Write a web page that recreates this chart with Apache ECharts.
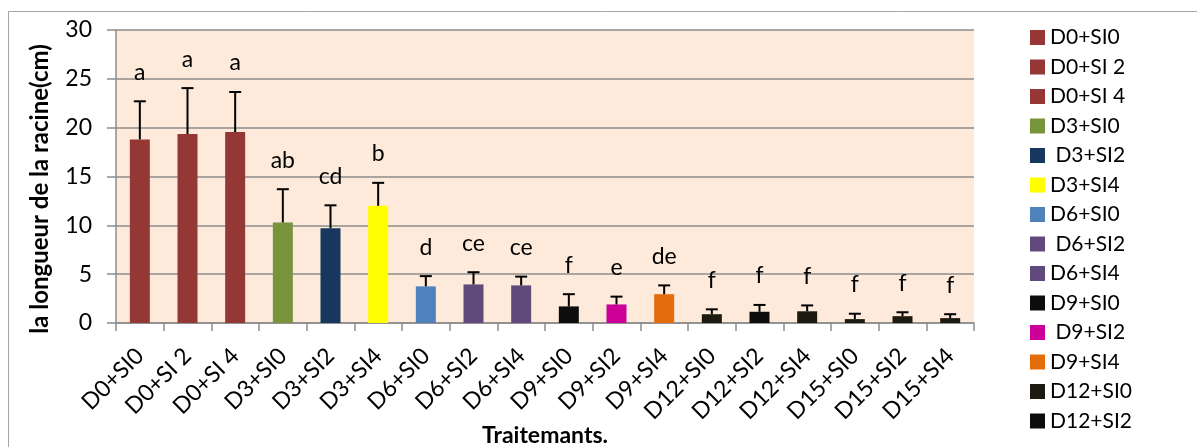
<!DOCTYPE html>
<html>
<head>
<meta charset="utf-8">
<script src="https://cdn.jsdelivr.net/npm/echarts@6/dist/echarts.min.js"></script>
<style>
html,body{margin:0;padding:0;background:#fff;}
#chart{width:1197px;height:447px;}
</style>
</head>
<body>
<div id="chart"></div>
<script>
const categories = ["D0+SI0","D0+SI 2","D0+SI 4","D3+SI0","D3+SI2","D3+SI4","D6+SI0","D6+SI2","D6+SI4","D9+SI0","D9+SI2","D9+SI4","D12+SI0","D12+SI2","D12+SI4","D15+SI0","D15+SI2","D15+SI4"];
const legendLabels = ["D0+SI0","D0+SI 2","D0+SI 4","D3+SI0"," D3+SI2","D3+SI4","D6+SI0"," D6+SI2","D6+SI4","D9+SI0"," D9+SI2","D9+SI4","D12+SI0","D12+SI2","D12+SI4","D15+SI0","D15+SI2","D15+SI4"];
const means = [18.8,19.35,19.55,10.3,9.7,12.0,3.75,3.95,3.85,1.7,1.9,2.95,0.9,1.15,1.2,0.4,0.7,0.5];
const errors = [3.9,4.7,4.1,3.4,2.35,2.35,1.05,1.25,0.9,1.25,0.8,0.9,0.5,0.7,0.6,0.55,0.4,0.4];
const letters = ["a","a","a","ab","cd","b","d","ce","ce","f","e","de","f","f","f","f","f","f"];
const yTicks = [0,5,10,15,20,25,30];
const colors = ["#953735","#953735","#953735","#77933C","#17375E","#FFFF00","#4F81BD","#604A7B","#604A7B","#0D0D0D","#CC0099","#E46C0A","#1D1B10","#0D0D0D","#1D1B10","#1D1B10","#1D1B10","#1D1B10"];

const FONT = 'Lato, "Liberation Sans", sans-serif';
const chart = echarts.init(document.getElementById('chart'));

const barSeries = categories.map((c, i) => ({
  name: legendLabels[i],
  type: 'bar',
  stack: 'all',
  barWidth: 20,
  itemStyle: { color: colors[i] },
  data: categories.map((_, j) => (j === i ? means[i] : '-')),
  z: 2
}));

const errData = categories.map((c, i) => [i, means[i], errors[i]]);

const errSeries = {
  type: 'custom',
  name: 'err',
  z: 5,
  data: errData,
  encode: { x: 0, y: 1 },
  renderItem: function (params, api) {
    const i = api.value(0);
    const m = api.value(1);
    const e = api.value(2);
    const base = api.coord([i, m]);
    const top = api.coord([i, m + e]);
    const half = 6;
    return {
      type: 'group',
      children: [
        { type: 'line', shape: { x1: base[0], y1: base[1], x2: top[0], y2: top[1] }, style: { stroke: '#000', lineWidth: 2 } },
        { type: 'line', shape: { x1: top[0] - half, y1: top[1], x2: top[0] + half, y2: top[1] }, style: { stroke: '#000', lineWidth: 2 } },
        { type: 'text', style: { text: letters[i], x: top[0], y: top[1] - 29, align: 'center', verticalAlign: 'middle', fill: '#000', font: '23px ' + FONT } }
      ]
    };
  }
};

chart.setOption({
  animation: false,
  textStyle: { fontFamily: FONT },
  graphic: [{ type: 'rect', shape: { x: 8.5, y: 11.5, width: 1400, height: 600 }, style: { fill: 'none', stroke: '#a6a6a6', lineWidth: 1 }, silent: true }],
  grid: { left: 116, top: 30, width: 858, height: 293, show: true, backgroundColor: '#FDEADA', borderWidth: 0, containLabel: false, outerBoundsMode: 'none' },
  legend: {
    orient: 'vertical',
    left: 1025,
    top: 22,
    height: 425,
    data: legendLabels.slice(0, 14),
    itemWidth: 15,
    itemHeight: 15,
    itemGap: 8.5,
    icon: 'rect',
    textStyle: { fontSize: 21, color: '#000', fontFamily: FONT },
    selectedMode: false
  },
  xAxis: {
    type: 'category',
    data: categories,
    name: 'Traitemants.',
    nameLocation: 'middle',
    nameGap: 101,
    nameMoveOverlap: false,
    nameTextStyle: { fontSize: 23, fontWeight: 'bold', color: '#000' },
    axisLine: { lineStyle: { color: '#8c8c8c', width: 1.5 } },
    axisTick: { show: true, length: 8, lineStyle: { color: '#8c8c8c', width: 1.5 } },
    axisLabel: { rotate: 45, fontSize: 23, color: '#000', margin: 29, interval: 0 }
  },
  yAxis: {
    type: 'value',
    min: 0,
    max: 30,
    interval: 5,
    name: 'la longueur de la racine(cm)',
    nameLocation: 'middle',
    nameGap: 64,
    nameMoveOverlap: false,
    nameTextStyle: { fontSize: 24, fontWeight: 'bold', color: '#000', padding: [0, 25, 0, 0] },
    axisLine: { show: true, lineStyle: { color: '#8c8c8c', width: 1.5 } },
    axisTick: { show: true, length: 9, lineStyle: { color: '#8c8c8c', width: 1.5 } },
    axisLabel: { fontSize: 23, color: '#000', margin: 24, formatter: v => (yTicks.includes(v) ? String(v) : '') },
    splitLine: { show: true, lineStyle: { color: '#8c8c8c', width: 1.5 } }
  },
  series: barSeries.concat([errSeries])
});
</script>
</body>
</html>
